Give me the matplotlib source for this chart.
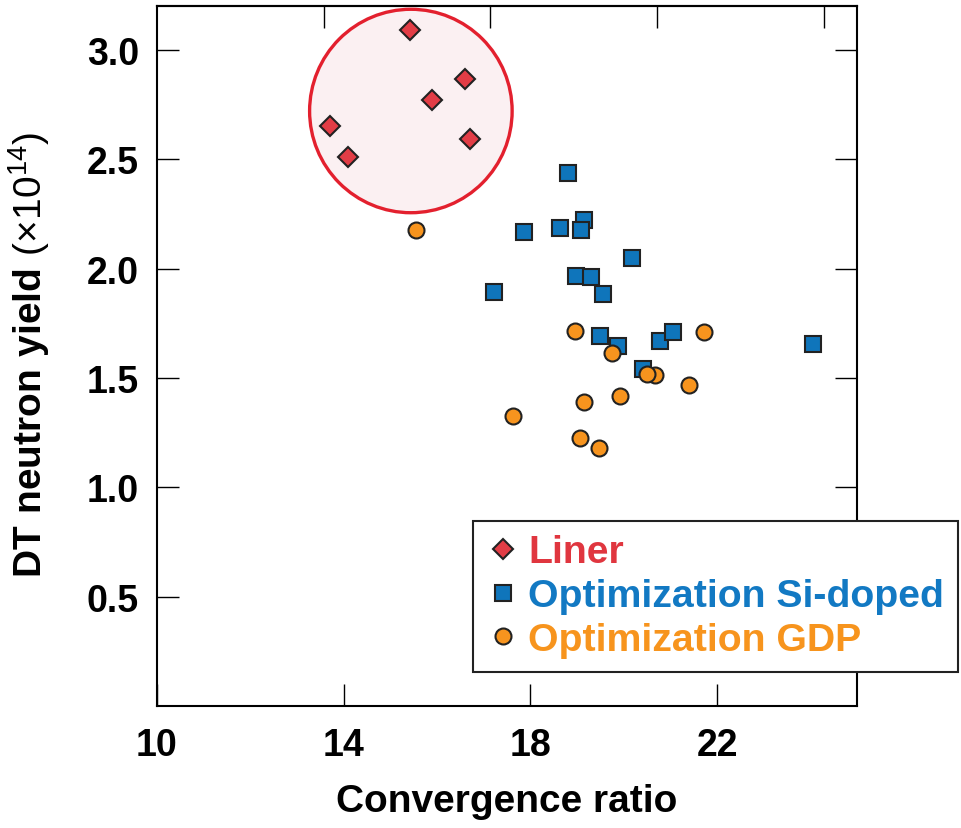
import matplotlib
matplotlib.use("Agg")
import matplotlib.pyplot as plt
from matplotlib.patches import Ellipse

# DT yield vs convergence ratio for the three target types
liner_cr = [15.42, 16.61, 15.90, 13.71, 16.71, 14.09]
liner_yield = [3.09, 2.866, 2.772, 2.65, 2.592, 2.508]

si_cr = [18.81, 17.87, 18.64, 19.16, 19.09, 20.17, 18.98, 19.30, 19.55,
         17.22, 19.87, 19.49, 20.78, 21.05, 20.42, 24.06]
si_yield = [2.435, 2.165, 2.184, 2.222, 2.177, 2.05, 1.964, 1.959, 1.883,
            1.894, 1.647, 1.693, 1.67, 1.708, 1.54, 1.655]

gdp_cr = [15.56, 18.96, 19.74, 21.72, 20.67, 20.51, 21.41, 19.92, 19.14,
          17.62, 19.06, 19.48]
gdp_yield = [2.176, 1.713, 1.614, 1.711, 1.515, 1.518, 1.469, 1.419, 1.388,
             1.327, 1.224, 1.179]

# highlight around the liner shots (centre, full width, full height)
ring_center = (15.44, 2.72)
ring_size = (4.34, 0.93)

x_ticks = [10, 14, 18, 22]
y_ticks = [0.5, 1.0, 1.5, 2.0, 2.5, 3.0]
top_ticks = [13.57, 17.14, 20.71, 24.29]

red = "#e23d46"
blue = "#0f75bb"
orange = "#f7941e"
edge = "#222222"

plt.rcParams["font.family"] = "Liberation Sans"
plt.rcParams["mathtext.fontset"] = "custom"
plt.rcParams["mathtext.rm"] = "Liberation Sans"
plt.rcParams["mathtext.bf"] = "Liberation Sans:bold"

fig = plt.figure(figsize=(9.61, 8.29), dpi=100)
ax = fig.add_axes([157 / 961, 122 / 829, 700 / 961, 700 / 829])

ax.add_patch(Ellipse(ring_center, ring_size[0], ring_size[1],
                     facecolor="#fbf0f2", edgecolor="#e3202e", linewidth=2.4, zorder=1))

ax.plot(liner_cr, liner_yield, linestyle="none", marker="D", markersize=10.3,
        markerfacecolor=red, markeredgecolor=edge, markeredgewidth=1.5, label="Liner", zorder=3)
ax.plot(si_cr, si_yield, linestyle="none", marker="s", markersize=11.5,
        markerfacecolor=blue, markeredgecolor=edge, markeredgewidth=1.5,
        label="Optimization Si-doped", zorder=3)
ax.plot(gdp_cr, gdp_yield, linestyle="none", marker="o", markersize=11.5,
        markerfacecolor=orange, markeredgecolor=edge, markeredgewidth=1.5,
        label="Optimization GDP", zorder=4)

ax.set_xlim(10, 25)
ax.set_ylim(0, 3.2)
ax.set_xticks(x_ticks)
ax.set_yticks(y_ticks)
ax.set_xticklabels([str(t) for t in x_ticks])
ax.set_yticklabels([f"{t:.1f}" for t in y_ticks])

ax.tick_params(axis="both", direction="in", length=15.8, width=1.0, labelsize=27)
ax.tick_params(axis="y", right=True, pad=13)
ax.tick_params(axis="x", pad=15)
for lab in ax.get_xticklabels() + ax.get_yticklabels():
    lab.set_fontweight("bold")
for sp in ax.spines.values():
    sp.set_linewidth(1.5)

# unlabelled ticks along the top edge
top = ax.secondary_xaxis("top")
top.set_xticks(top_ticks)
top.set_xticklabels([])
top.tick_params(direction="in", length=15.8, width=1.0)
top.spines["top"].set_linewidth(1.5)

ax.set_xlabel("Convergence ratio", fontsize=28, fontweight="bold")
ax.xaxis.set_label_coords(0.5, -0.11)
ax.set_ylabel(r"$\mathbf{DT\ neutron\ yield}\ \mathrm{(×10^{14})}$", fontsize=28)
ax.yaxis.set_label_coords(-0.15, 0.503)

leg = ax.legend(loc="upper left", bbox_to_anchor=(473 / 961, 1 - 521.7 / 829),
                bbox_transform=fig.transFigure, frameon=True, fancybox=False,
                borderpad=0.35, borderaxespad=0, handlelength=0.83, handletextpad=0.22,
                labelspacing=0.2, labelcolor=["#e0363f", "#1279c3", "#f7941d"],
                prop={"weight": "bold", "size": 28.3})
leg.get_frame().set_edgecolor(edge)
leg.get_frame().set_linewidth(1.5)
leg.get_frame().set_alpha(1)

fig.savefig("out.png", dpi=100)
